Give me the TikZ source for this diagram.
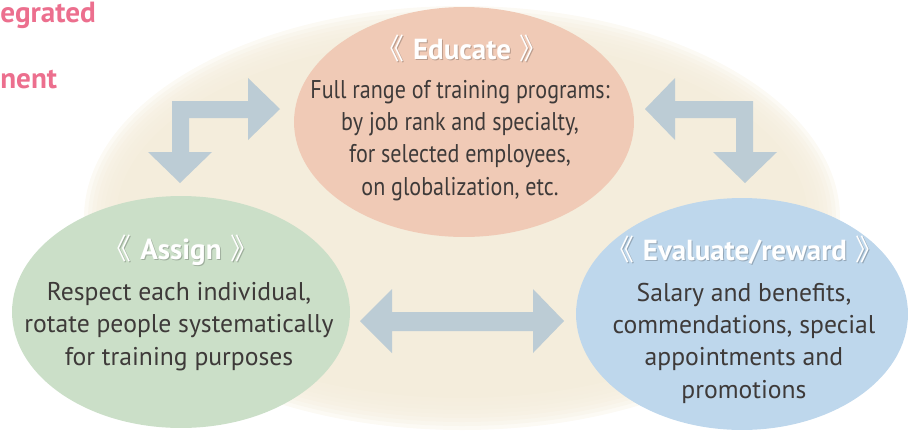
\documentclass[tikz,border=0pt]{standalone}
\usepackage{fontspec}
\setmainfont{PT Sans}
\newfontfamily\narrowfont[FakeStretch=0.86]{PT Sans}
\newfontfamily\cjkfont{Noto Sans CJK JP}
\usepackage{tikz}
\usetikzlibrary{calc}
\usetikzlibrary{shapes.geometric}
\definecolor{cream}{RGB}{244,237,220}
\definecolor{salmon}{RGB}{240,202,182}
\definecolor{sage}{RGB}{203,223,200}
\definecolor{skyblue}{RGB}{190,215,236}
\definecolor{arrowblue}{RGB}{188,204,213}
\definecolor{textgray}{RGB}{62,58,57}
\definecolor{headpink}{RGB}{236,111,142}
\newcommand{\lbr}{{\cjkfont\mdseries 《}\kern0.3em}
\newcommand{\rbr}{\kern0.3em{\cjkfont\mdseries 》}}

\begin{document}
\begin{tikzpicture}[x=0.02cm, y=-0.02cm,
bubble/.style = {ellipse, inner sep=0pt, minimum width=6.8cm, minimum height=4.6cm},
title/.style = {font=\fontsize{16.5}{18}\selectfont\bfseries, text=white, inner sep=0pt},
titleshade/.style = {title, text=black, opacity=0.22},
body/.style = {font=\fontsize{14.6}{18.4}\selectfont, text=textgray, align=center, inner sep=0pt, anchor=base},
headline/.style = {font=\fontsize{16.6}{18}\selectfont\bfseries, text=headpink, inner sep=0pt, anchor=base west},
blockarrow/.style = {fill=arrowblue}
]
\clip (0,0) rectangle (909,430);

% soft background
\foreach \k in {0,...,7}
  \fill[cream, opacity=0.3] (462,218) ellipse ({378-4*\k} and {212-4*\k});
\fill[cream] (462,218) ellipse (346 and 180);

\node (headtop)[headline] at (0,22) {egrated};
\node (headbottom)[headline] at (0,88) {nent};

\node (educate)[bubble, fill=salmon] at (464,122) {};
\node (assign)[bubble, fill=sage, minimum width=6.76cm, minimum height=4.64cm] at (181,312) {};
\node (evaluate)[bubble, fill=skyblue, minimum width=6.64cm, minimum height=4.64cm] at (742,314) {};

% block arrows
\fill[blockarrow] (180,183) -- (212,152) -- (189,152) -- (189,118) -- (248,118) -- (248,140) -- (280,109)
  -- (248,78) -- (248,101) -- (172,101) -- (172,152) -- (148,152) -- cycle;
\fill[blockarrow] (645,109) -- (675,78) -- (675,101) -- (753,101) -- (753,152) -- (777,152) -- (745,183)
  -- (713,152) -- (736,152) -- (736,118) -- (675,118) -- (675,140) -- cycle;
\fill[blockarrow] (360,321) -- (392,289) -- (392,312) -- (533,312) -- (533,289) -- (564,321)
  -- (533,353) -- (533,331) -- (392,331) -- (392,353) -- cycle;

% titles
\node (educateshade)[titleshade] at ($(educate)+(-1,-73)$) {\lbr Educate\rbr};
\node (educatetitle)[title] at ($(educate)+(-2,-74)$) {\lbr Educate\rbr};
\node (assignshade)[titleshade] at ($(assign)+(1,-61)$) {\lbr Assign\rbr};
\node (assigntitle)[title] at ($(assign)+(0,-62)$) {\lbr Assign\rbr};
\node (evaluateshade)[titleshade] at ($(evaluate)+(4,-63)$) {\lbr Evaluate/reward\rbr};
\node (evaluatetitle)[title] at ($(evaluate)+(3,-64)$) {\lbr Evaluate/reward\rbr};

% texts
\node (educatetext)[body, font=\fontsize{14.6}{18.4}\selectfont\narrowfont] at ($(educate)+(-4,73)$)
  {Full range of training programs:\\by job rank and specialty,\\for selected employees,\\on globalization, etc.};
\node (assigntext)[body] at ($(assign)+(-2,53)$)
  {Respect each individual,\\rotate people systematically\\for training purposes};
\node (evaluatetext)[body] at ($(evaluate)+(2,84)$)
  {Salary and benefits,\\commendations, special\\appointments and\\promotions};

\end{tikzpicture}
\end{document}
